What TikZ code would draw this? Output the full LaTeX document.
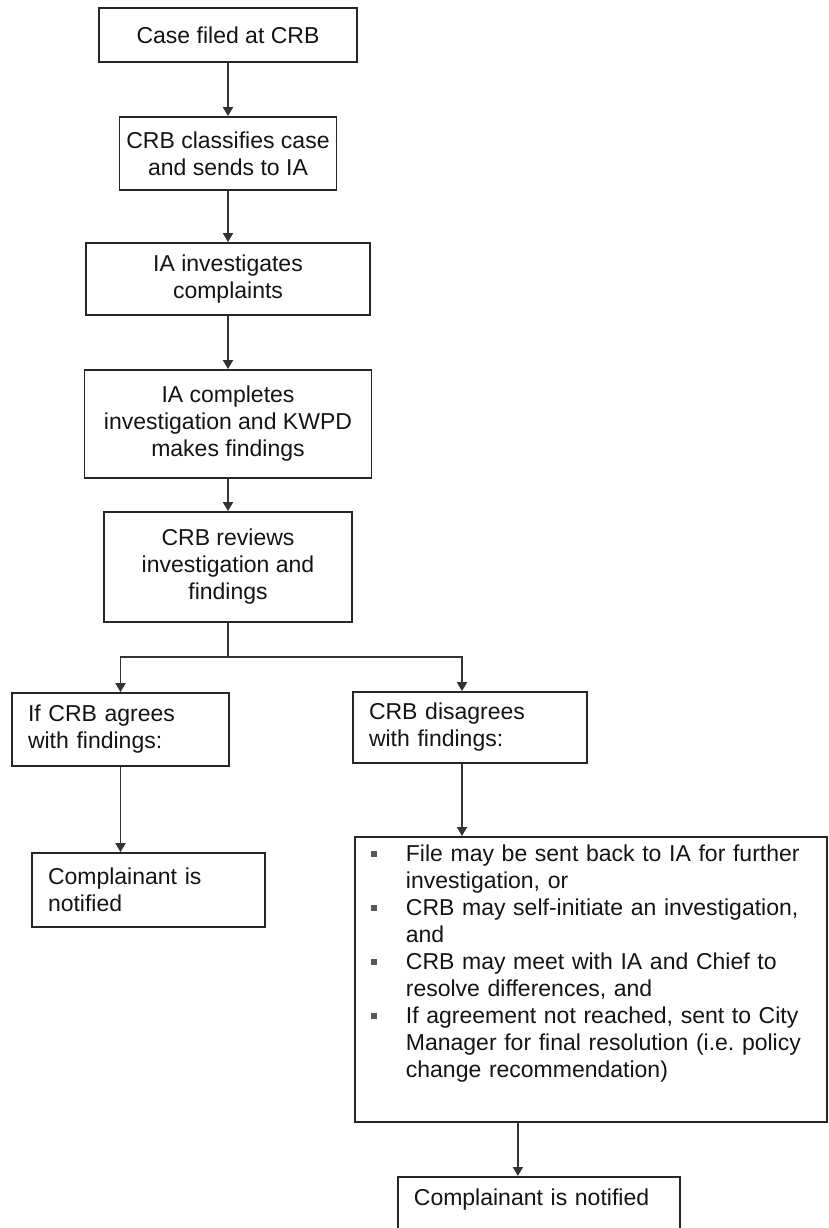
\documentclass[tikz,border=0pt]{standalone}
\usepackage{fontspec}
\setmainfont{Liberation Sans}
\usetikzlibrary{arrows.meta}
\newcommand{\bulitem}{\makebox[35pt][l]{\raisebox{5pt}{\color{black!65}\rule{6pt}{6pt}}}}
\newcommand{\bulindent}{\hspace*{35pt}}
\begin{document}
\begin{tikzpicture}[x=1pt,y=-1pt,
  box/.style={draw=black!85, line width=1.8pt, font=\fontsize{23}{27}\selectfont, text=black!92, inner sep=0pt},
  cbox/.style={box, align=center},
  lbox/.style={box, align=left, inner xsep=16pt},
  arr/.style={draw=black!80, line width=1.8pt, -{Triangle[width=10pt,length=9pt]}},
  ln/.style={draw=black!80, line width=1.8pt}]
\useasboundingbox (0,0) rectangle (829,1228);
\clip (0,0) rectangle (829,1228);
\fill[white] (0,0) rectangle (829,1228);

\node[cbox, minimum width=258pt, minimum height=54pt] (b1) at (228,35) {Case filed at CRB};
\node[cbox, minimum width=217pt, minimum height=73pt] (b2) at (228,153.5) {CRB classifies case\\and sends to IA};
\node[cbox, minimum width=284pt, minimum height=72pt] (b3) at (228,279) {IA investigates\\complaints};
\node[cbox, minimum width=287pt, minimum height=108pt] (b4) at (228,424) {IA completes\\investigation and KWPD\\makes findings};
\node[cbox, minimum width=248pt, minimum height=110pt] (b5) at (228,567) {CRB reviews\\investigation and\\findings};

\node[lbox, text width=185pt, minimum height=73pt] (b6) at (120.5,729.5) {If CRB agrees\\with findings:};
\node[lbox, text width=202pt, minimum height=71pt] (b7) at (470,727.5) {CRB disagrees\\with findings:};
\node[lbox, text width=201pt, minimum height=74pt] (b8) at (148.5,890) {Complainant is\\notified};

\node[lbox, anchor=north west, text width=440pt, inner ysep=8pt, text height=17pt, text depth=252pt] (big) at (354,836) {%
\bulitem File may be sent back to IA for further\\
\bulindent investigation, or\\
\bulitem CRB may self-initiate an investigation,\\
\bulindent and\\
\bulitem CRB may meet with IA and Chief to\\
\bulindent resolve differences, and\\
\bulitem If agreement not reached, sent to City\\
\bulindent Manager for final resolution (i.e.\ policy\\
\bulindent change recommendation)};

\node[lbox, anchor=north west, text width=250pt, inner ysep=12pt, text height=17pt, text depth=60pt] (b10) at (397,1176) {Complainant is notified};

\coordinate (split) at (228,657);

\draw[arr] (b1.south) -- (b2.north);
\draw[arr] (b2.south) -- (b3.north);
\draw[arr] (b3.south) -- (b4.north);
\draw[arr] (b4.south) -- (b5.north);
\draw[ln] (b5.south) -- (split);
\draw[arr] (split) -| (b6.north);
\draw[arr] (split) -| ([xshift=-8pt]b7.north);
\draw[arr] (b6.south) -- (b6.south |- b8.north);
\draw[arr] ([xshift=-8pt]b7.south) -- ([xshift=-8pt]b7.south |- big.north);
\draw[arr] ([xshift=-21pt]b10.north |- big.south) -- ([xshift=-21pt]b10.north);
\end{tikzpicture}
\end{document}
